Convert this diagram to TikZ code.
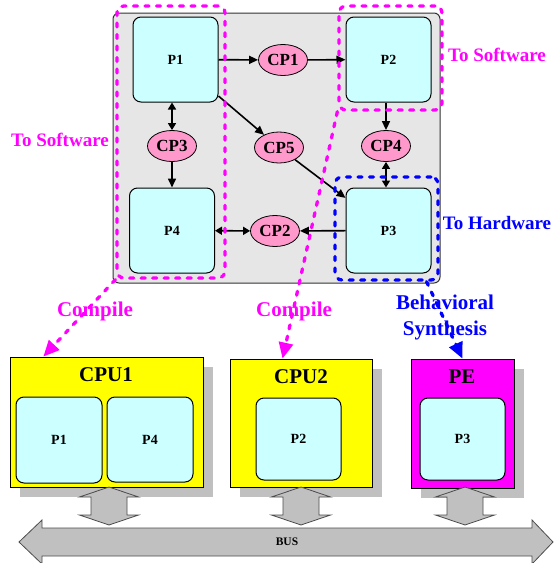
\documentclass[tikz,border=0pt]{standalone}
\usepackage{fontspec}
\setmainfont{Liberation Serif}
\usetikzlibrary{arrows.meta,shapes.geometric,shadows}
\definecolor{procfill}{HTML}{CCFFFF}
\definecolor{chanfill}{HTML}{FF99CC}
\definecolor{swmagenta}{HTML}{FF00FF}
\definecolor{hwblue}{HTML}{0000FF}
\definecolor{cpuyellow}{HTML}{FFFF00}
\definecolor{busgray}{HTML}{C0C0C0}
\definecolor{specgray}{HTML}{E6E6E6}
\tikzset{
  procbox/.style={
    rectangle,
    rounded corners=8pt,
    draw=black,
    fill=procfill,
    line width=1pt,
    minimum width=85pt,
    minimum height=85pt,
    inner sep=0pt,
    font=\bfseries\fontsize{14}{16}\selectfont
  },
  chanell/.style={
    ellipse,
    draw=black,
    fill=chanfill,
    line width=0.8pt,
    minimum width=49pt,
    minimum height=31pt,
    inner sep=0pt,
    font=\bfseries\fontsize{17}{19}\selectfont
  },
  pebox/.style={
    rectangle,
    draw=black,
    fill=cpuyellow,
    line width=0.8pt,
    inner sep=0pt,
    drop shadow={shadow xshift=10pt, shadow yshift=-10pt, fill=busgray, opacity=1}
  },
  hwpebox/.style={pebox, fill=swmagenta},
  petitle/.style={inner sep=0pt, font=\bfseries\fontsize{21}{23}\selectfont},
  zonebox/.style={
    rectangle,
    rounded corners=7pt,
    draw=swmagenta,
    line width=3.3pt,
    line cap=round,
    dash pattern=on 4pt off 7.5pt,
    inner sep=0pt
  },
  hwzonebox/.style={zonebox, draw=hwblue},
  zonetext/.style={inner sep=0pt, text=swmagenta, font=\bfseries\fontsize{19}{21}\selectfont},
  steptext/.style={inner sep=0pt, text=swmagenta, align=center, font=\bfseries\fontsize{21}{26}\selectfont},
  flowarrow/.style={-{Triangle[length=9pt,width=8pt]}, line width=1.6pt, draw=black},
  duplexarrow/.style={{Triangle[length=7pt,width=8pt]}-{Triangle[length=7pt,width=8pt]}, line width=1.6pt, draw=black},
  maparrow/.style={-{Triangle[length=16pt,width=14pt]}, line width=3.3pt, line cap=round, dash pattern=on 4pt off 7.5pt, draw=swmagenta},
  synarrow/.style={maparrow, draw=hwblue},
  busshape/.style={fill=busgray, draw=black!70, line width=0.8pt}
}

\begin{document}
\begin{tikzpicture}[x=1pt, y=-1pt]
\useasboundingbox (0,0) rectangle (554,563);
% specification
\node[rectangle, rounded corners=6pt, draw=black!80, fill=specgray, line width=1pt,
  minimum width=327pt, minimum height=270pt, inner sep=0pt] (spec) at (276.5,148) {};
\node[procbox] (p1) at (175.5,59.5) {P1};
\node[procbox] (p2) at (388.5,59.5) {P2};
\node[procbox] (p4) at (172,230.5) {P4};
\node[procbox] (p3) at (388.5,230.5) {P3};
\node[chanell] (cp1) at (283,60) {CP1};
\node[chanell] (cp3) at (172,146) {CP3};
\node[chanell] (cp5) at (279,147.5) {CP5};
\node[chanell] (cp4) at (386,146) {CP4};
\node[chanell] (cp2) at (275,231) {CP2};
\draw[flowarrow] (p1) -- (cp1);
\draw[flowarrow] (cp1) -- (p2);
\draw[duplexarrow] (p1.south -| cp3) -- (cp3);
\draw[flowarrow] (cp3) -- (p4);
\draw[flowarrow] (p1) -- (cp5);
\draw[flowarrow] (cp5) -- (p3);
\draw[flowarrow] (p2.south -| cp4) -- (cp4);
\draw[duplexarrow] (cp4) -- (p3.north -| cp4);
\draw[duplexarrow] (p4) -- (cp2);
\draw[flowarrow] (p3) -- (cp2);
% partitions
\node[zonebox, minimum width=108pt, minimum height=272pt] (swzonea) at (171,142) {};
\node[zonebox, minimum width=103pt, minimum height=104pt] (swzoneb) at (390.5,58) {};
\node[hwzonebox, minimum width=103pt, minimum height=103pt] (hwzone) at (386.5,228.5) {};
\node[zonetext] (swtexta) at (60,140) {To Software};
\node[zonetext] (swtextb) at (497,55) {To Software};
\node[zonetext, text=hwblue] (hwtext) at (497,223) {To Hardware};
% architecture
\node[pebox, minimum width=193pt, minimum height=130pt] (cpu1) at (106.5,422) {};
\node[pebox, minimum width=142pt, minimum height=128pt] (cpu2) at (301,423) {};
\node[hwpebox, minimum width=103pt, minimum height=129pt] (pe) at (462.5,423.5) {};
\node[petitle] (cpu1title) at (106,375) {CPU1};
\node[petitle] (cpu2title) at (301,377) {CPU2};
\node[petitle] (petitle) at (462,377) {PE};
\node[procbox, minimum width=86pt, minimum height=86pt] (cpu1p1) at (59,440) {P1};
\node[procbox, minimum width=86pt, minimum height=85pt] (cpu1p4) at (150,439.5) {P4};
\node[procbox, minimum height=82pt] (cpu2p2) at (298.5,439) {P2};
\node[procbox, minimum height=82pt] (pep3) at (462.5,439) {P3};
% bus
\foreach \cx in {109,301,465}
  \filldraw[busshape] (\cx,487) -- (\cx+29.5,497) -- (\cx+18,497) -- (\cx+18,515)
    -- (\cx+29.5,515) -- (\cx,525) -- (\cx-29.5,515) -- (\cx-18,515)
    -- (\cx-18,497) -- (\cx-29.5,497) -- cycle;
\filldraw[busshape] (19,542) -- (42,520) -- (42,528) -- (532,528) -- (532,520)
  -- (553,542) -- (532,564) -- (532,556) -- (42,556) -- (42,564) -- cycle;
\node[inner sep=0pt, font=\bfseries\fontsize{11.5}{13}\selectfont] (bus) at (287,542) {BUS};
% mapping
\draw[maparrow] (swzonea.south west) -- (cpu1.134);
\draw[maparrow] (swzoneb.south west) -- (cpu2.106);
\draw[synarrow] (hwzone.-53) -- (pe.north);
\node[steptext] (compa) at (95,311) {Compile};
\node[steptext] (compb) at (294,311) {Compile};
\node[steptext, text=hwblue] (synth) at (445,317) {Behavioral\\Synthesis};
\end{tikzpicture}
\end{document}
